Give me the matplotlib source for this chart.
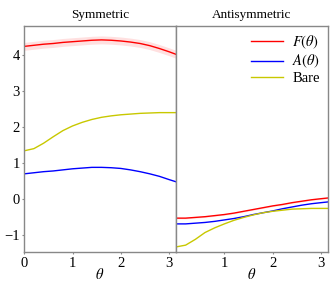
import numpy as np
import matplotlib
matplotlib.use("Agg")
import matplotlib.pyplot as plt

plt.rcParams['font.family'] = ['Liberation Serif', 'DejaVu Serif']
plt.rcParams['mathtext.fontset'] = 'stix'
plt.rcParams['font.size'] = 10

theta = [0.0, 0.2, 0.4, 0.6, 0.8, 1.0, 1.2, 1.4, 1.6, 1.8, 2.0, 2.2, 2.4, 2.6, 2.8, 3.0, 3.14159]

sym_F = [4.24, 4.27, 4.30, 4.32, 4.35, 4.37, 4.39, 4.41, 4.42, 4.41, 4.39, 4.36, 4.32, 4.26, 4.18, 4.09, 4.02]
sym_F_err = 0.11
sym_A = [0.70, 0.73, 0.76, 0.78, 0.81, 0.84, 0.86, 0.88, 0.88, 0.87, 0.85, 0.81, 0.76, 0.70, 0.63, 0.54, 0.48]
sym_bare = [1.34, 1.40, 1.55, 1.73, 1.90, 2.03, 2.13, 2.21, 2.27, 2.31, 2.34, 2.36, 2.38, 2.39, 2.40, 2.40, 2.40]

anti_F = [-0.53, -0.53, -0.51, -0.49, -0.46, -0.43, -0.39, -0.34, -0.29, -0.24, -0.19, -0.15, -0.10, -0.06, -0.02, 0.01, 0.03]
anti_F_err = 0.02
anti_A = [-0.69, -0.69, -0.67, -0.65, -0.62, -0.58, -0.54, -0.49, -0.43, -0.38, -0.33, -0.27, -0.22, -0.17, -0.13, -0.10, -0.08]
anti_bare = [-1.33, -1.28, -1.12, -0.93, -0.80, -0.69, -0.59, -0.51, -0.44, -0.38, -0.34, -0.31, -0.28, -0.27, -0.26, -0.26, -0.26]

titles = ["Symmetric", "Antisymmetric"]
labels = [r"$F(\theta)$", r"$A(\theta)$", "Bare"]
xticks_left = [0, 1, 2, 3]
xticks_right = [1, 2, 3]
yticks = [-1, 0, 1, 2, 3, 4]

fig = plt.figure(figsize=(3.32, 2.81), dpi=100)
ax1 = fig.add_axes([0.073, 0.102, 0.457, 0.806])
ax2 = fig.add_axes([0.530, 0.102, 0.458, 0.806], sharey=ax1)

th = np.array(theta)
for ax, F, Ferr, A, B, title, xt in [(ax1, sym_F, sym_F_err, sym_A, sym_bare, titles[0], xticks_left),
                                       (ax2, anti_F, anti_F_err, anti_A, anti_bare, titles[1], xticks_right)]:
    F = np.array(F)
    ax.fill_between(th, F - Ferr, F + Ferr, color='red', alpha=0.12, lw=0)
    ax.plot(th, F, color='red', lw=1.0, label=labels[0])
    ax.plot(th, A, color='blue', lw=1.0, label=labels[1])
    ax.plot(th, B, color='#c8c800', lw=1.0, label=labels[2])
    ax.set_xlim(0, np.pi)
    ax.set_xticks(xt)
    ax.set_title(title, fontsize=9.5, pad=6)
    ax.set_xlabel(r"$\theta$", fontsize=10.5, labelpad=-1.5)
    for s in ax.spines.values():
        s.set_color('#888888')
        s.set_linewidth(1.0)
    ax.tick_params(length=1.5, width=0.8, color='#888888', pad=1.5, labelsize=10.5)

ax1.set_ylim(-1.48, 4.81)
ax1.set_yticks(yticks)
ax2.tick_params(labelleft=False, left=False)

ax2.legend(loc='upper right', frameon=False, fontsize=10.5, handlelength=2.2,
           labelspacing=0.12, borderaxespad=0.15, handletextpad=0.6)

fig.savefig("out.png", dpi=100)
